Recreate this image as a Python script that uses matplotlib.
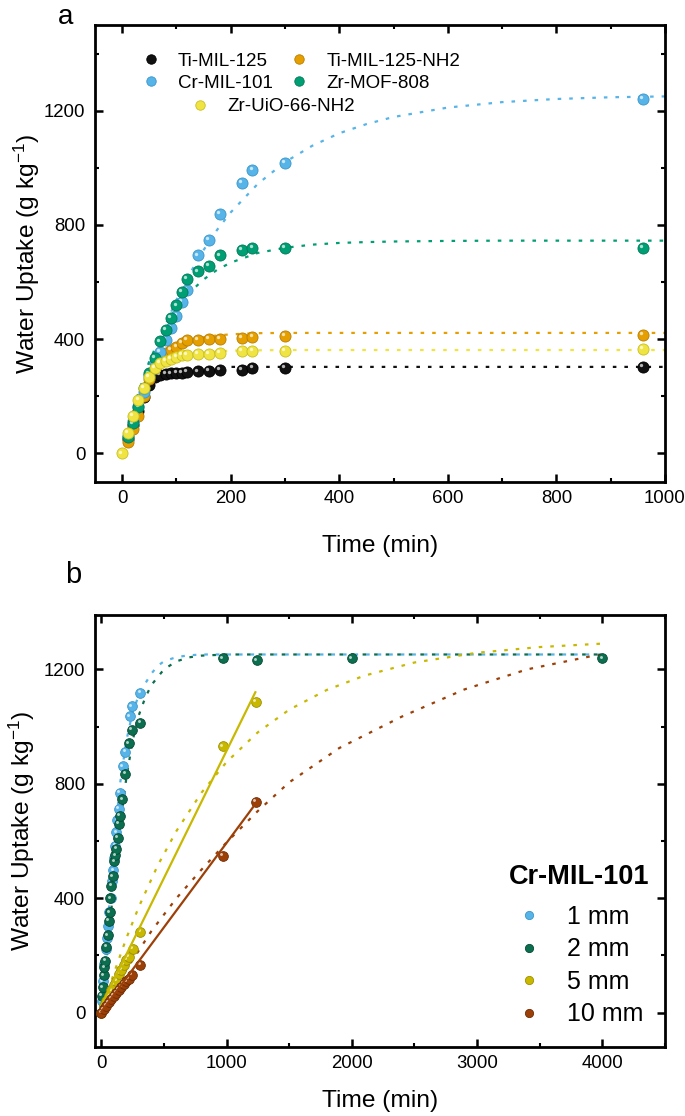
import matplotlib
matplotlib.use('Agg')
import matplotlib.pyplot as plt
from matplotlib import font_manager
from matplotlib.transforms import offset_copy
from matplotlib.ticker import MultipleLocator


# region data panel a
time_a = [10, 20, 30, 40, 50, 60, 70, 80, 90, 100, 110, 120, 140, 160, 180, 220, 240, 300, 960]
time_uio = [0, 10, 20, 30, 40, 50, 60, 70, 80, 90, 100, 110, 120, 140, 160, 180, 220, 240, 300, 960]
ti_mil125 = [50, 100, 150, 198, 240, 268, 275, 278, 280, 282, 283, 286, 287, 289, 292, 293, 298, 298, 304]
ti_mil125_nh2 = [40, 85, 130, 200, 260, 300, 331, 351, 362, 374, 386, 398, 398, 400, 401, 403, 407, 412, 415]
cr_mil101 = [60, 115, 165, 215, 270, 320, 356, 398, 439, 480, 530, 571, 693, 747, 837, 946, 993, 1016, 1240]
zr_mof808 = [57, 105, 163, 228, 280, 333, 392, 433, 474, 518, 566, 611, 637, 657, 693, 713, 720, 721, 721]
zr_uio66_nh2 = [0, 71, 131, 186, 228, 268, 300, 318, 325, 332, 339, 344, 346, 349, 349, 351, 359, 359, 360, 365]

# fit curves
fit_t_a = [0, 25, 50, 75, 100, 125, 150, 175, 200, 250, 300, 350, 400, 450, 500, 600, 700, 800, 900, 1000]
fit_ti125 = [0, 171, 246, 278, 292, 298, 301, 302, 303, 303, 303, 303, 303, 303, 303, 303, 303, 303, 303, 303]
fit_ti125_nh2 = [0, 180, 283, 342, 376, 396, 407, 413, 417, 421, 422, 422, 422, 422, 422, 422, 422, 422, 422, 422]
fit_cr101 = [0, 164, 306, 430, 537, 631, 712, 783, 844, 944, 1020, 1077, 1121, 1153, 1178, 1211, 1230, 1241, 1247,
             1250]
fit_mof808 = [0, 184, 323, 427, 506, 565, 609, 643, 668, 702, 720, 731, 737, 740, 742, 744, 745, 745, 745, 745]
fit_uio66 = [0, 168, 258, 307, 332, 346, 353, 357, 360, 361, 362, 362, 362, 362, 362, 362, 362, 362, 362, 362]
# endregion

# region data panel b (Cr-MIL-101, different bed thickness)
t_1mm = [5, 15, 25, 35, 45, 55, 65, 75, 85, 95, 105, 112, 120, 128, 140, 146, 170, 191, 226, 245, 311]
u_1mm = [40, 110, 170, 223, 260, 304, 351, 400, 460, 497, 540, 583, 630, 674, 713, 769, 861, 911, 1036, 1071, 1117]
t_2mm = [5, 12, 18, 25, 32, 40, 50, 58, 66, 72, 80, 90, 104, 112, 120, 130, 138, 146, 168, 191, 222, 245, 311,
         970, 1240, 2000, 4000]
u_2mm = [60, 88, 130, 158, 182, 230, 270, 322, 351, 400, 444, 476, 529, 550, 573, 610, 660, 689, 746, 835, 942, 989,
         1012, 1238, 1232, 1238, 1238]
t_5mm = [0, 20, 40, 60, 80, 100, 120, 140, 160, 180, 200, 220, 250, 311, 970, 1235]
u_5mm = [0, 22, 42, 60, 78, 98, 112, 135, 150, 168, 185, 196, 223, 283, 931, 1086]
t_10mm = [0, 20, 40, 60, 80, 100, 120, 140, 160, 180, 200, 220, 245, 311, 970, 1235]
u_10mm = [0, 12, 24, 36, 48, 58, 70, 80, 90, 100, 110, 118, 133, 167, 549, 736]

fit1_t = [0, 50, 100, 150, 200, 250, 300, 350, 400, 450, 500, 600, 700, 800, 1000, 2000, 4000]
fit1_u = [0, 300, 580, 800, 950, 1050, 1110, 1150, 1185, 1212, 1228, 1243, 1249, 1252, 1252, 1252, 1252]
fit2_t = [0, 50, 100, 150, 200, 250, 300, 350, 400, 500, 600, 700, 800, 1000, 2000, 4000]
fit2_u = [0, 220, 450, 650, 820, 950, 1040, 1100, 1145, 1200, 1228, 1242, 1248, 1252, 1252, 1252]
fit5_t = [0, 100, 200, 300, 450, 600, 800, 1000, 1250, 1500, 1800, 2100, 2500, 3000, 3500, 4000]
fit5_u = [0, 137, 260, 370, 514, 635, 769, 876, 980, 1059, 1128, 1178, 1224, 1258, 1278, 1290]
fit10_t = [0, 200, 400, 600, 800, 1000, 1250, 1500, 1900, 2400, 2900, 3400, 3900, 4000]
fit10_u = [0, 150, 285, 400, 500, 595, 705, 805, 925, 1035, 1130, 1200, 1245, 1252]
lin5_t = [0, 1230]
lin5_u = [25, 1120]
lin10_t = [0, 1240]
lin10_u = [3, 735]
# endregion

fonts = {f.name for f in font_manager.fontManager.ttflist}
if 'Liberation Sans Narrow' in fonts:
    narrow, k = 'Liberation Sans Narrow', 1.0
else:
    narrow, k = 'Liberation Sans', 0.84
plt.rcParams['font.family'] = 'Liberation Sans'
plt.rcParams['mathtext.default'] = 'regular'

fig = plt.figure(figsize=(6.85, 11.16), dpi=100)
ax_a = fig.add_axes([95 / 685, 1 - 482 / 1116, 570 / 685, 457 / 1116])
ax_b = fig.add_axes([95 / 685, 1 - 1047 / 1116, 570 / 685, 432 / 1116])

dots = (0, (1.6, 3.6))


def balls(ax, x, y, color, edge, ms, z):
    # kugel-look: farbiger punkt + kleiner heller glanzpunkt oben links
    line, = ax.plot(x, y, 'o', ms=ms, mfc=color, mec=edge, mew=0.6, zorder=z)
    shine = offset_copy(ax.transData, fig=fig, x=-ms * 0.17, y=ms * 0.17, units='points')
    ax.plot(x, y, 'o', ms=ms * 0.3, mfc='white', mec='none', alpha=0.7, transform=shine, zorder=z + 0.01)
    return line


def style(ax):
    for s in ax.spines.values():
        s.set_linewidth(2)
    ax.tick_params(which='both', direction='in', top=True, right=True,
                   labelsize=16 * k, labelfontfamily=narrow)
    ax.tick_params(which='major', length=6, width=1.8)
    ax.tick_params(which='minor', length=2.8, width=1.5)
    ax.tick_params(axis='y', pad=7)
    ax.tick_params(axis='x', pad=6)


# region panel a
c_black, c_orange, c_blue, c_green, c_yellow = '#111111', '#E69F00', '#56B4E9', '#009E73', '#F0E442'

for ft, col in [(fit_ti125, c_black), (fit_ti125_nh2, c_orange), (fit_cr101, c_blue),
                (fit_mof808, c_green), (fit_uio66, c_yellow)]:
    ax_a.plot(fit_t_a, ft, color=col, lw=1.6, linestyle=dots, zorder=2)

h_ti = balls(ax_a, time_a, ti_mil125, c_black, '#000000', 8, 3.0)
h_tin = balls(ax_a, time_a, ti_mil125_nh2, c_orange, '#b87d00', 8, 3.1)
h_cr = balls(ax_a, time_a, cr_mil101, c_blue, '#3c96c8', 8, 3.2)
h_mof = balls(ax_a, time_a, zr_mof808, c_green, '#007a59', 8, 3.3)
h_uio = balls(ax_a, time_uio, zr_uio66_nh2, c_yellow, '#c9be20', 8, 3.4)

ax_a.set_xlim(-50, 1000)
ax_a.set_ylim(-100, 1500)
ax_a.xaxis.set_major_locator(MultipleLocator(200))
ax_a.xaxis.set_minor_locator(MultipleLocator(100))
ax_a.yaxis.set_major_locator(MultipleLocator(400))
ax_a.yaxis.set_minor_locator(MultipleLocator(200))
style(ax_a)
ax_a.set_xlabel('Time (min)', fontsize=21 * k, family=narrow)
ax_a.set_ylabel('Water Uptake (g kg$^{-1}$)', fontsize=21 * k, family=narrow)
ax_a.xaxis.set_label_coords(0.5, -0.115)
ax_a.yaxis.set_label_coords(-0.093, 0.5)

leg1 = ax_a.legend([h_ti, h_cr, h_tin, h_mof], ['Ti-MIL-125', 'Cr-MIL-101', 'Ti-MIL-125-NH2', 'Zr-MOF-808'],
                   ncol=2, loc='upper left', bbox_to_anchor=(0.082, 0.939), frameon=False, fontsize=13.5,
                   handlelength=1.0, handletextpad=0.94, columnspacing=0.9, labelspacing=0.26,
                   borderpad=0, borderaxespad=0, markerscale=0.85)
ax_a.add_artist(leg1)
ax_a.legend([h_uio], ['Zr-UiO-66-NH2'], loc='upper left', bbox_to_anchor=(0.168, 0.840), frameon=False,
            fontsize=13.5, handlelength=1.0, handletextpad=0.94, borderpad=0, borderaxespad=0, markerscale=0.85)
# endregion

# region panel b
c1, c2, c5, c10 = '#56B4E9', '#0B6E4F', '#C9B800', '#9C4008'

ax_b.plot(fit1_t, fit1_u, color=c1, lw=1.6, linestyle=dots, zorder=2)
ax_b.plot(fit2_t, fit2_u, color=c2, lw=1.6, linestyle=dots, zorder=2)
ax_b.plot(fit5_t, fit5_u, color=c5, lw=1.6, linestyle=dots, zorder=2)
ax_b.plot(fit10_t, fit10_u, color=c10, lw=1.6, linestyle=dots, zorder=2)

h1 = balls(ax_b, t_1mm, u_1mm, c1, '#3c96c8', 7, 3.0)
h2 = balls(ax_b, t_2mm, u_2mm, c2, '#064a35', 7, 3.1)
h5 = balls(ax_b, t_5mm, u_5mm, c5, '#9c8f00', 7, 3.2)
ax_b.plot(lin5_t, lin5_u, color=c5, lw=1.6, zorder=3.25)
h10 = balls(ax_b, t_10mm, u_10mm, c10, '#6e2c04', 7, 3.3)
ax_b.plot(lin10_t, lin10_u, color=c10, lw=1.6, zorder=3.35)

ax_b.set_xlim(-50, 4500)
ax_b.set_ylim(-120, 1390)
ax_b.xaxis.set_major_locator(MultipleLocator(1000))
ax_b.xaxis.set_minor_locator(MultipleLocator(500))
ax_b.yaxis.set_major_locator(MultipleLocator(400))
ax_b.yaxis.set_minor_locator(MultipleLocator(200))
style(ax_b)
ax_b.set_xlabel('Time (min)', fontsize=21 * k, family=narrow)
ax_b.set_ylabel('Water Uptake (g kg$^{-1}$)', fontsize=21 * k, family=narrow)
ax_b.xaxis.set_label_coords(0.5, -0.1)
ax_b.yaxis.set_label_coords(-0.102, 0.5)

# titel separat, damit der abstand zu den eintraegen stimmt
ax_b.text(0.849, 0.394, 'Cr-MIL-101', transform=ax_b.transAxes, ha='center', va='center',
          fontsize=19.5, fontweight='bold')
ax_b.legend([h1, h2, h5, h10], ['1 mm', '2 mm', '5 mm', '10 mm'], loc='upper right',
            bbox_to_anchor=(0.9614, 0.329), frameon=False, fontsize=18, handlelength=1.2,
            handletextpad=0.9, labelspacing=0.34, borderpad=0, borderaxespad=0, markerscale=0.85)
# endregion

fig.text(58 / 685, 1 - 24 / 1116, 'a', fontsize=20, va='baseline')
fig.text(65 / 685, 1 - 583 / 1116, 'b', fontsize=21, va='baseline')

fig.savefig('out.png', dpi=100)
